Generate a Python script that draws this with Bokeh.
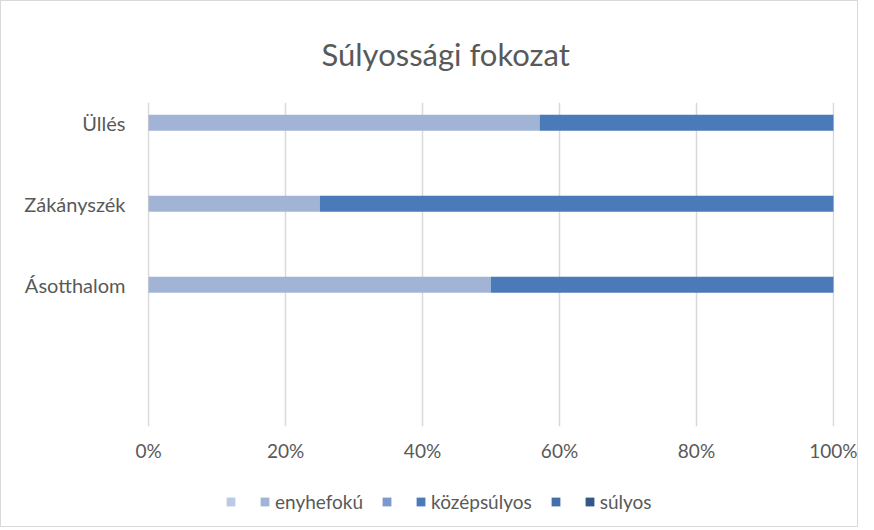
from bokeh.plotting import figure
from bokeh.layouts import column
from bokeh.models import (ColumnDataSource, Range1d, FixedTicker, PrintfTickFormatter,
                          Legend, LegendItem, Title)
from bokeh.core.properties import value
from bokeh.embed import file_html
from bokeh.resources import INLINE

# ---- data ----
title_text = "Súlyossági fokozat"
cities = ["Üllés", "Zákányszék", "Ásotthalom"]          # top to bottom
series_names = ["", "enyhefokú", "", "középsúlyos", "", "súlyos"]
s0 = [0, 0, 0]
enyhefoku = [57.1, 25.0, 50.0]
s2 = [0, 0, 0]
kozepsulyos = [42.9, 75.0, 50.0]
s4 = [0, 0, 0]
sulyos = [0, 0, 0]
x_ticks = [0, 20, 40, 60, 80, 100]

colors = ["#BCC9E2", "#A2B4D6", "#7B99CC", "#4A7AB8", "#4470A8", "#34578A"]
GRAY = "#595959"
FONT = "Lato"

n_slots = len(cities) + 1
ypos = [n_slots - i - 0.25 for i in range(len(cities))]

keys = ["s0", "s1", "s2", "s3", "s4", "s5"]
data = dict(y=ypos, s0=s0, s1=enyhefoku, s2=s2, s3=kozepsulyos, s4=s4, s5=sulyos)
src = ColumnDataSource(data)

p = figure(output_backend="svg", toolbar_location=None,
           frame_width=687, frame_height=324,
           x_range=Range1d(-0.15, 100.15), y_range=Range1d(0, n_slots),
           min_border_left=146, min_border_right=23,
           min_border_top=101, min_border_bottom=60)
p.outline_line_color = None
p.background_fill_color = "white"

renderers = p.hbar_stack(keys, y="y", height=0.2, color=colors, source=src,
                         line_color=None)

# axes
p.xaxis.ticker = FixedTicker(ticks=x_ticks)
p.xaxis.formatter = PrintfTickFormatter(format="%d%%")
p.xaxis.axis_line_color = None
p.xaxis.major_tick_line_color = None
p.xaxis.minor_tick_line_color = None
p.xaxis.major_label_standoff = 6
p.xaxis.major_label_text_font = FONT
p.xaxis.major_label_text_font_size = "19px"
p.xaxis.major_label_text_color = GRAY

p.yaxis.ticker = FixedTicker(ticks=ypos)
p.yaxis.major_label_overrides = {y: c for y, c in zip(ypos, cities)}
p.yaxis.axis_line_color = None
p.yaxis.major_tick_line_color = None
p.yaxis.minor_tick_line_color = None
p.yaxis.major_label_standoff = 16
p.yaxis.major_label_text_font = FONT
p.yaxis.major_label_text_font_size = "20px"
p.yaxis.major_label_text_color = GRAY

p.xgrid.grid_line_color = "#D9D9D9"
p.xgrid.grid_line_width = 1.5
p.ygrid.grid_line_color = None

# title
p.add_layout(Title(text=title_text, align="left", offset=174, standoff=60,
                   text_font=FONT, text_font_size="31px", text_font_style="normal",
                   text_color=GRAY), "above")

# legend in its own strip below the chart (dummy zero-size glyphs, outside range)
lg_src = ColumnDataSource({k: [0] for k in ["y"] + keys})
lg = figure(output_backend="svg", toolbar_location=None,
            width=856, height=40, x_range=Range1d(0, 1), y_range=Range1d(5, 6),
            min_border=0)
lg.axis.visible = False
lg.grid.visible = False
lg.outline_line_color = None
lg_renderers = lg.hbar_stack(keys, y="y", height=0.2, color=colors, source=lg_src,
                             line_color=None)
items = [LegendItem(label=value(n), renderers=[r]) for n, r in zip(series_names, lg_renderers)]
legend = Legend(items=items, orientation="horizontal", location=(78, 13),
                glyph_width=11, glyph_height=11, label_standoff=5, spacing=18,
                label_width=0, label_height=11, padding=0, margin=0,
                border_line_color=None, background_fill_alpha=0,
                label_text_font=FONT, label_text_font_size="19px",
                label_text_color=GRAY)
lg.add_layout(legend, "center")

layout = column(p, lg, spacing=0, styles={"border": "1px solid #D9D9D9"})

open("out.html", "w").write(file_html(layout, INLINE))
